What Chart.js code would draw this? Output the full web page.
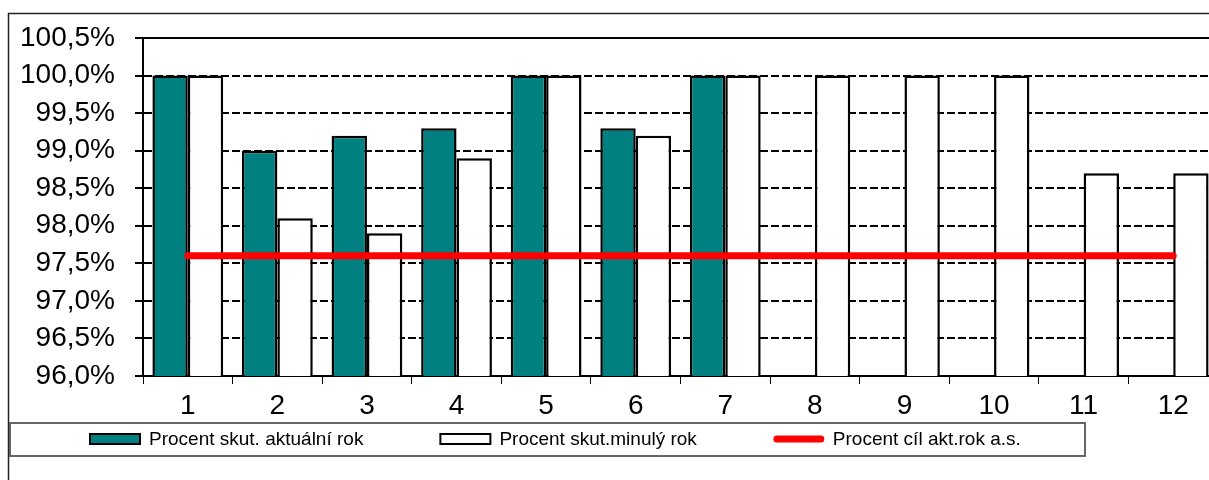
<!DOCTYPE html>
<html>
<head>
<meta charset="utf-8">
<script src="https://cdn.jsdelivr.net/npm/chart.js@4/dist/chart.umd.min.js"></script>
<style>
  html, body { margin: 0; padding: 0; background: #fff; }
  #wrap { width: 1209px; height: 480px; overflow: hidden; position: relative; }
  canvas { display: block; }
</style>
</head>
<body>
<div id="wrap"><canvas id="c" width="1230" height="480"></canvas></div>
<script>
// Months of the year
const months = ['1', '2', '3', '4', '5', '6', '7', '8', '9', '10', '11', '12'];

// Actual percentage, current year (months not yet reported are empty)
const currentYear = [100.0, 99.0, 99.2, 99.3, 100.0, 99.3, 100.0, null, null, null, null, null];

// Actual percentage, previous year
const previousYear = [100.0, 98.1, 97.9, 98.9, 100.0, 99.2, 100.0, 100.0, 100.0, 100.0, 98.7, 98.7];

// Target percentage for the current year
const target = [97.6, 97.6, 97.6, 97.6, 97.6, 97.6, 97.6, 97.6, 97.6, 97.6, 97.6, 97.6];

// Value axis range
const yMin = 96.0;
const yMax = 100.5;
const yStep = 0.5;

const seriesNames = {
  current: 'Procent skut. aktuální rok',
  previous: 'Procent skut.minulý rok',
  target: 'Procent cíl akt.rok a.s.'
};

const FONT = '"Liberation Sans", Arial, sans-serif';
const TEAL = '#008080';

function fmtPct(v) {
  return Number(v).toFixed(1).replace('.', ',') + '%';
}

// Outer chart frame (top and left edges)
const framePlugin = {
  id: 'frame',
  beforeDraw(chart) {
    const ctx = chart.ctx;
    ctx.save();
    ctx.strokeStyle = '#222';
    ctx.lineWidth = 1.5;
    ctx.beginPath();
    ctx.moveTo(8.5, 480);
    ctx.lineTo(8.5, 13.5);
    ctx.lineTo(chart.width, 13.5);
    ctx.stroke();
    ctx.restore();
  }
};

// Boxed legend below the axis
const boxLegendPlugin = {
  id: 'boxLegend',
  afterDraw(chart) {
    const ctx = chart.ctx;
    const ds = chart.data.datasets;
    const items = [ds[1], ds[2], ds[0]];
    ctx.save();
    ctx.font = '19px ' + FONT;
    ctx.textBaseline = 'middle';
    ctx.textAlign = 'left';
    const cy = 439;
    const symW = 52;
    const symToText = 8;
    const gap = 76;
    let x = 89;
    let right = x;
    items.forEach(d => {
      if (d.type === 'line') {
        ctx.strokeStyle = d.borderColor;
        ctx.lineWidth = 7;
        ctx.lineCap = 'round';
        ctx.beginPath();
        ctx.moveTo(x + 4, cy);
        ctx.lineTo(x + symW - 4, cy);
        ctx.stroke();
      } else {
        ctx.fillStyle = d.backgroundColor;
        ctx.strokeStyle = '#000';
        ctx.lineWidth = 2;
        ctx.beginPath();
        ctx.rect(x + 1, cy - 5, symW - 2, 10);
        ctx.fill();
        ctx.stroke();
      }
      const tx = x + symW + symToText;
      ctx.fillStyle = '#000';
      ctx.fillText(d.label, tx, cy + 1);
      const w = ctx.measureText(d.label).width;
      right = tx + w;
      x = right + gap;
    });
    ctx.strokeStyle = '#666';
    ctx.lineWidth = 2;
    ctx.strokeRect(10, 423, Math.round(right + 64) - 10, 33);
    ctx.restore();
  }
};

new Chart(document.getElementById('c'), {
  type: 'bar',
  data: {
    labels: months,
    datasets: [
      {
        type: 'line',
        label: seriesNames.target,
        data: target,
        borderColor: '#ff0000',
        backgroundColor: '#ff0000',
        borderWidth: 7,
        borderCapStyle: 'round',
        pointRadius: 0,
        fill: false,
        order: 0
      },
      {
        label: seriesNames.current,
        data: currentYear,
        backgroundColor: TEAL,
        borderColor: '#000',
        borderWidth: 2.5,
        borderSkipped: false,
        categoryPercentage: 0.79,
        barPercentage: 1.0,
        order: 1
      },
      {
        label: seriesNames.previous,
        data: previousYear,
        backgroundColor: '#ffffff',
        borderColor: '#000',
        borderWidth: 2.5,
        borderSkipped: false,
        categoryPercentage: 0.79,
        barPercentage: 1.0,
        order: 1
      }
    ]
  },
  options: {
    responsive: false,
    animation: false,
    devicePixelRatio: 1,
    layout: { padding: { top: 38, right: 12, bottom: 0, left: 0 } },
    plugins: {
      legend: { display: false },
      tooltip: { enabled: false }
    },
    scales: {
      x: {
        offset: true,
        afterFit(scale) { scale.height = 104; },
        grid: {
          drawOnChartArea: false,
          drawTicks: true,
          tickLength: 8,
          color: '#000',
          lineWidth: 1,
          offset: true
        },
        border: { display: true, color: '#000', width: 2 },
        ticks: {
          color: '#000',
          font: { family: FONT, size: 28 },
          padding: 5,
          maxRotation: 0,
          autoSkip: false
        }
      },
      y: {
        min: yMin,
        max: yMax,
        afterFit(scale) { scale.width = 143; },
        afterBuildTicks(scale) {
          const t = [];
          for (let i = 0; i <= Math.round((yMax - yMin) / yStep); i++) {
            t.push({ value: +(yMin + i * yStep).toFixed(1) });
          }
          scale.ticks = t;
        },
        grid: {
          color: '#000',
          lineWidth: 2,
          tickLength: 8,
          drawTicks: true
        },
        border: {
          display: true,
          color: '#000',
          width: 2,
          dash: (c) => (c.tick && Math.abs(c.tick.value - yMax) < 1e-6) ? [] : [8, 3]
        },
        ticks: {
          color: '#000',
          font: { family: FONT, size: 28 },
          padding: 20,
          callback: (v) => fmtPct(v)
        }
      }
    }
  },
  plugins: [framePlugin, boxLegendPlugin]
});
</script>
</body>
</html>
